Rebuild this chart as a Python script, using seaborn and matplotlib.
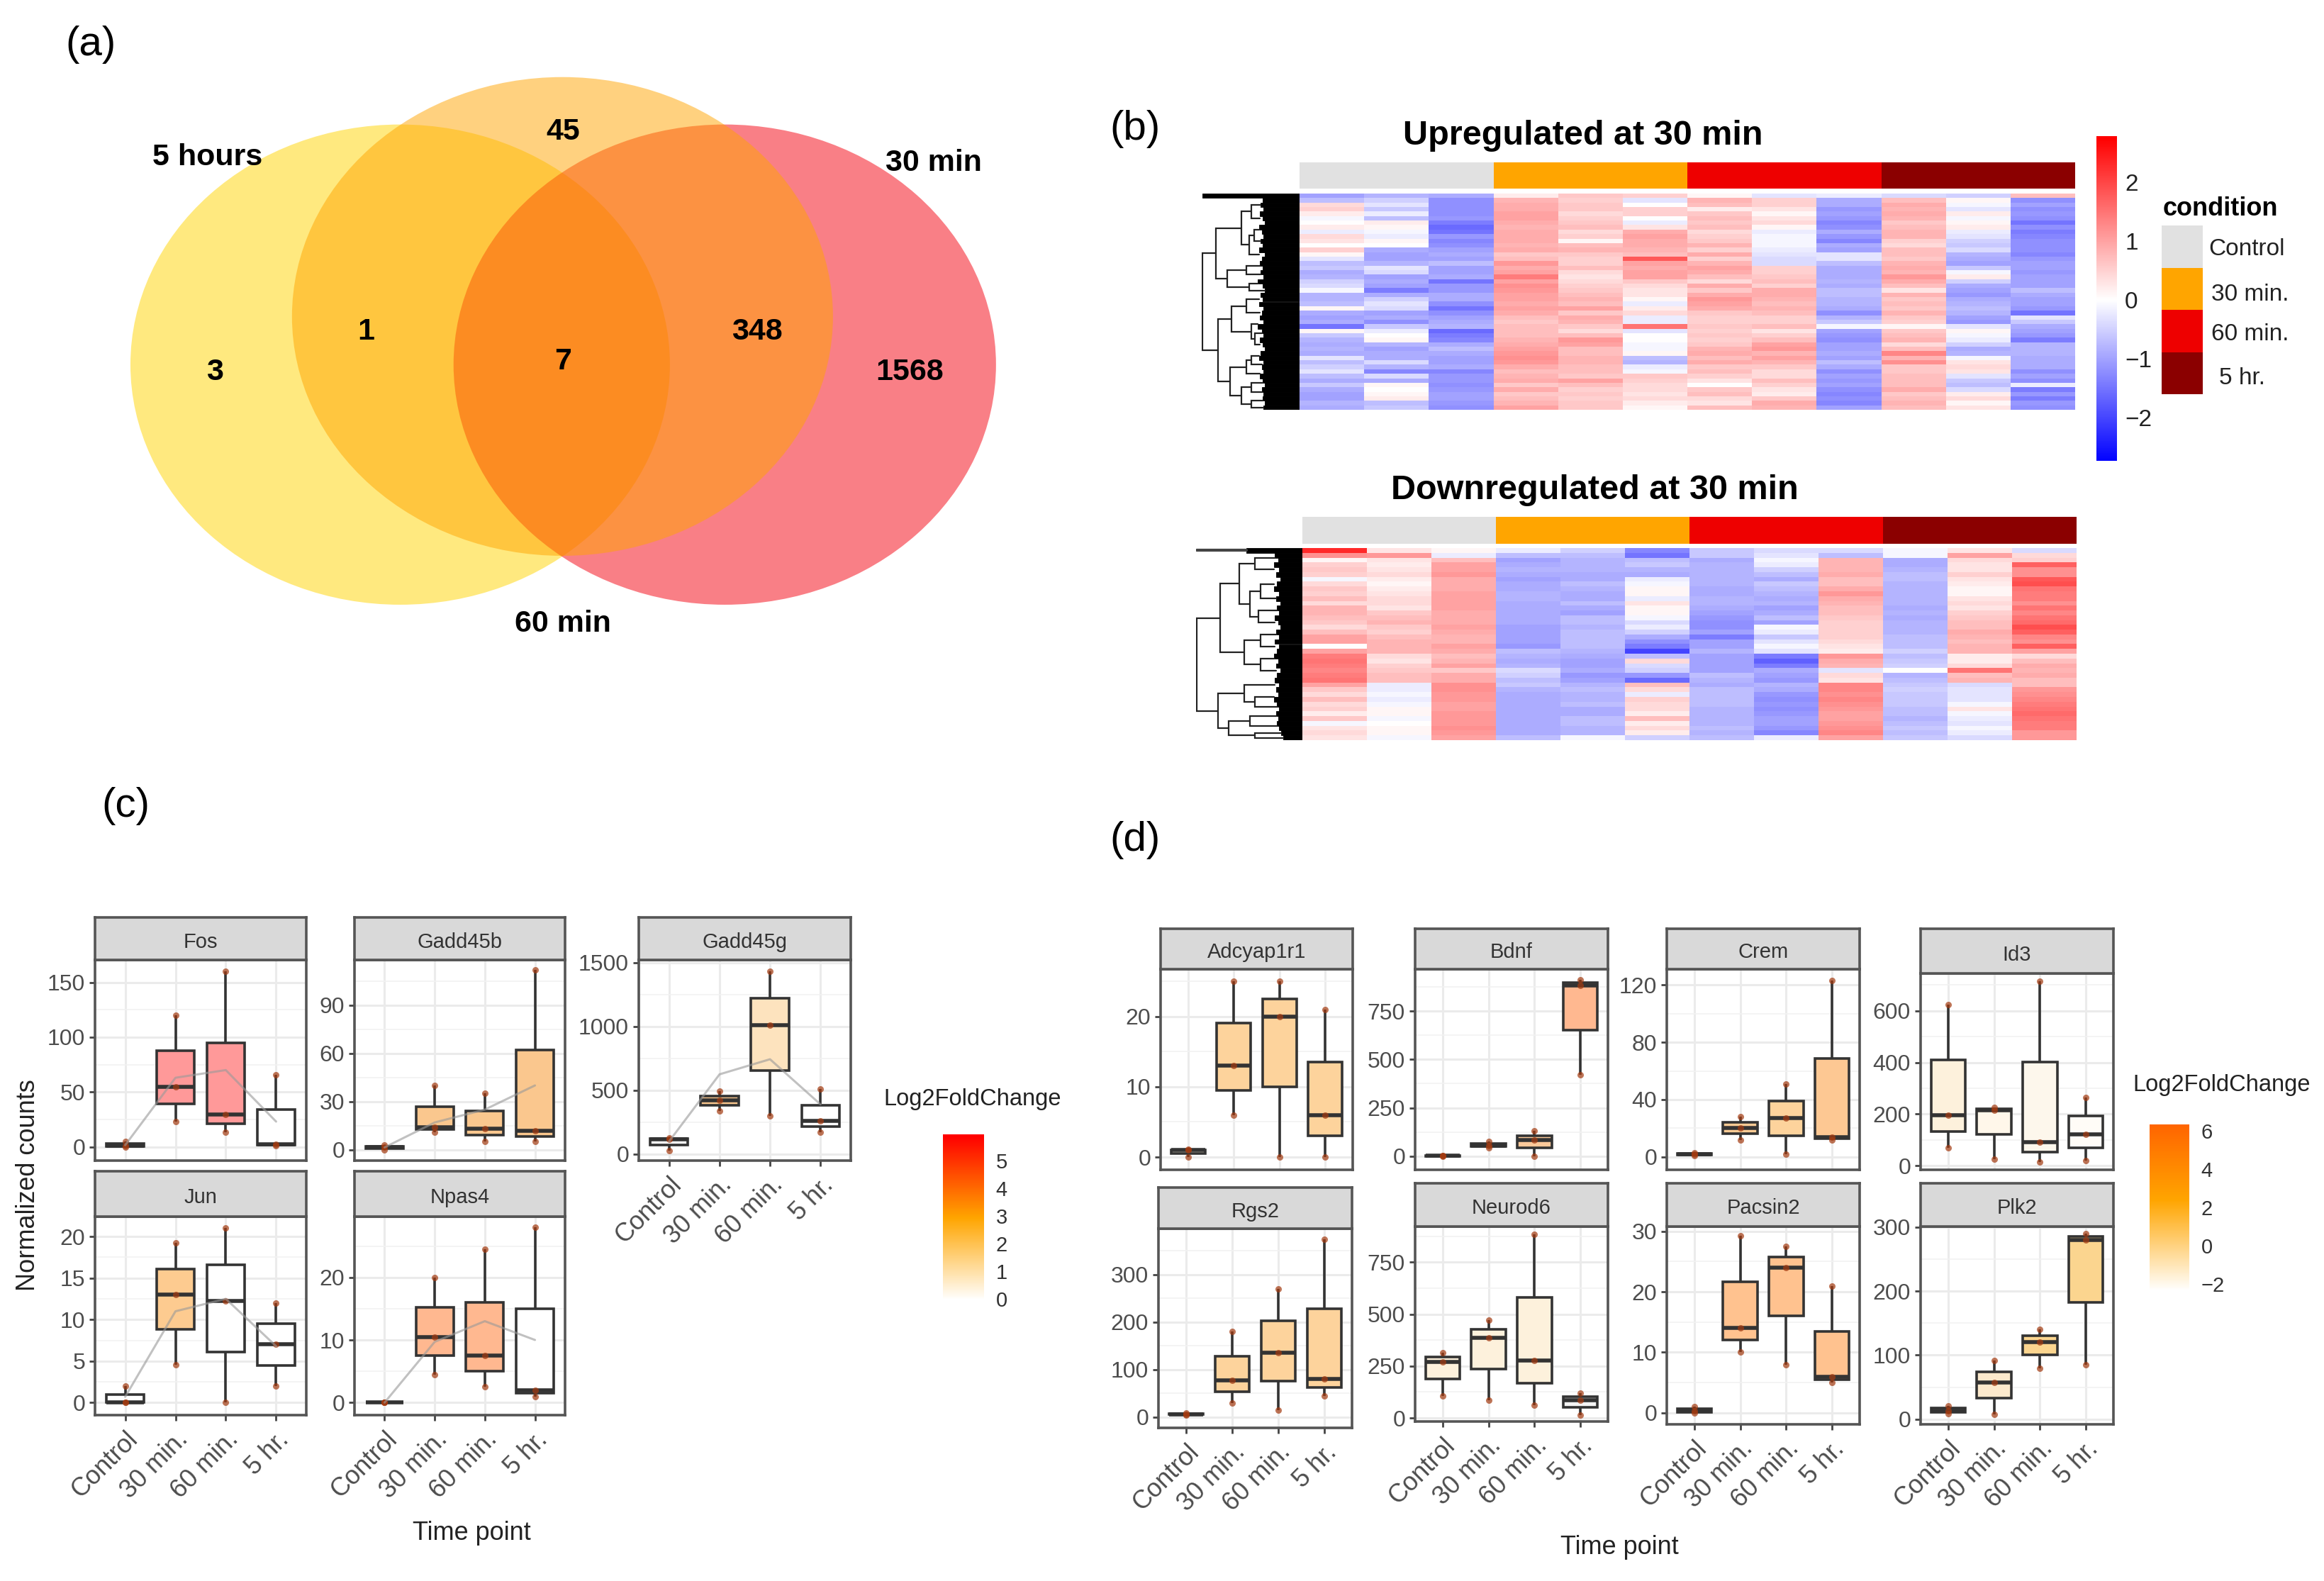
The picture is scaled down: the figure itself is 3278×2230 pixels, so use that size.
import numpy as np
import pandas as pd
import matplotlib
matplotlib.use("Agg")
import matplotlib.pyplot as plt
import seaborn as sns
from matplotlib.cm import ScalarMappable
from matplotlib.colors import LinearSegmentedColormap, ListedColormap, Normalize
from matplotlib.patches import Ellipse
from matplotlib.ticker import AutoMinorLocator

W, H = 3278, 2230
S = W / 1568

TIMES = ["Control", "30 min.", "60 min.", "5 hr."]
GENE_FONT = "Liberation Sans"

# venn counts
VENN_COUNTS = ["3", "1", "45", "7", "348", "1568"]
VENN_NAMES = ["5 hours", "60 min", "30 min"]

# three replicates per time point
FOS = [[0, 1, 5], [23, 55, 120], [13, 29.5, 160], [1, 2, 66]]
GADD45B = [[0, 1.5, 3], [11, 14, 40], [5, 13, 35], [5, 12, 112]]
GADD45G = [[30, 115, 130], [340, 420, 495], [300, 1010, 1430], [170, 260, 510]]
JUN = [[0, 0, 2], [4.6, 13, 19.2], [0, 12.2, 21], [2, 7, 12]]
NPAS4 = [[0, 0, 0], [4.5, 10.5, 20], [2.5, 7.5, 24.5], [1, 2, 28]]

ADCYAP1R1 = [[0, 1, 1.1], [6, 13, 25], [0, 20, 25], [0, 6, 21]]
BDNF = [[0, 2, 5], [45, 55, 75], [0, 85, 130], [420, 880, 910]]
CREM = [[1, 2, 3], [12, 20, 28], [2, 27, 51], [12, 14, 123]]
ID3 = [[70, 195, 625], [25, 215, 225], [15, 90, 715], [20, 120, 265]]
RGS2 = [[4, 6, 8], [30, 77, 180], [15, 135, 270], [45, 80, 375]]
NEUROD6 = [[105, 270, 315], [85, 385, 470], [60, 275, 885], [15, 85, 120]]
PACSIN2 = [[0, 0.3, 1], [10, 14, 29.3], [8, 24, 27.5], [5, 6, 21]]
PLK2 = [[9, 13, 21], [8, 57, 92], [80, 120, 140], [85, 280, 290]]

# grey trend lines in panel c
FOS_LINE = [1.5, 63, 70, 23]
GADD45B_LINE = [1.5, 17, 25, 40]
GADD45G_LINE = [100, 625, 743, 390]
JUN_LINE = [0.7, 11, 12.5, 6.8]
NPAS4_LINE = [0, 9.7, 13, 10]

# heatmap rows, 12 samples each
UP_ROWS = [
    [-1.0, -0.8, -0.9, 0.2, 0.6, 0.5, 0.1, -0.3, -0.2, -0.4, -0.5, 0.7],
    [-0.7, -0.5, -1.2, 0.8, 0.5, -0.3, 0.8, 0.5, -0.9, 0.7, 0.1, -1.2],
    [0.4, -0.3, -1.2, 0.9, 0.6, 0.0, 0.7, 0.5, -0.9, 0.9, -0.1, -1.0],
    [0.5, -0.6, -1.2, 0.9, 0.6, 0.5, 0.2, 0.3, -1.1, 0.8, -0.3, -1.2],
    [0.2, -0.2, -1.2, 1.0, 0.4, 0.5, 0.6, 0.1, -1.0, 0.9, 0.2, -1.1],
    [-0.1, -0.7, -1.1, 1.0, 0.5, 0.0, 0.7, 0.3, -1.1, 0.8, -0.1, -1.2],
    [0.0, 0.2, -1.4, 0.9, 0.6, -0.2, 0.6, 0.4, -1.3, 0.6, 0.1, -1.5],
    [0.2, 0.1, -1.6, 0.8, 0.7, 0.3, 0.7, 0.1, -1.2, 0.7, 0.2, -1.2],
    [-0.2, -0.1, -1.5, 0.9, 0.4, 0.9, 0.4, -0.2, -0.9, 0.8, -0.2, -1.4],
    [0.4, -0.2, -1.1, 0.9, 0.5, 1.0, 0.5, -0.1, -1.1, 0.8, -0.3, -1.3],
    [0.3, 0.1, -1.3, 0.9, 0.1, 0.9, 0.6, -0.1, -1.3, 0.5, -0.5, -1.2],
    [0.0, 0.0, -1.2, 0.8, 0.7, 0.9, 0.8, -0.1, -0.9, 0.4, -0.6, -1.2],
    [0.5, -0.9, -1.0, 0.9, 0.8, 0.8, 0.5, -0.2, -1.0, 0.7, -0.4, -1.2],
    [0.1, -1.0, -0.9, 0.6, 0.6, 0.7, 0.9, -0.3, -0.3, 0.7, -0.8, -1.3],
    [-0.3, -1.0, -1.0, 0.7, 0.5, 1.8, 0.5, -0.4, -0.3, 0.6, -0.9, -1.1],
    [-0.7, -0.8, -0.7, 1.1, 0.5, 1.0, 0.8, -0.4, -0.7, 0.8, -1.0, -1.0],
    [-0.6, -0.3, -1.0, 0.9, 0.7, 0.9, 1.0, 0.5, -0.9, 0.9, -0.6, -1.0],
    [-0.9, -0.4, -1.0, 1.0, 0.4, 1.0, 0.9, 0.5, -0.9, 0.8, -0.1, -1.1],
    [-0.8, -1.0, -0.9, 1.4, 0.3, 1.0, 0.7, 0.6, -0.9, 1.1, 0.2, -1.0],
    [-0.5, -0.9, -1.5, 1.0, 0.4, 0.6, 0.4, 0.7, -0.8, 0.9, -0.5, -1.0],
    [-0.4, -1.0, -1.1, 1.2, 0.5, 0.4, 0.9, 0.5, -0.9, 0.7, -0.9, -1.0],
    [-0.1, -1.4, -1.1, 1.1, 0.6, 0.3, 0.6, 0.9, -0.7, 0.3, -1.0, -0.7],
    [-0.8, -0.9, -0.9, 1.0, 0.7, 0.3, 0.9, 0.9, -0.7, 0.8, -1.1, -0.9],
    [-0.8, -0.5, -0.9, 1.0, 0.8, 0.1, 1.1, 0.8, -0.8, 0.6, -0.9, -1.0],
    [-0.7, -0.3, -1.2, 0.9, 0.7, -0.2, 1.0, 0.7, -0.8, 0.7, -0.8, -1.0],
    [0.1, -0.4, -1.5, 1.0, 1.0, 0.2, 0.9, 0.8, -0.9, 0.6, -0.7, -1.1],
    [-0.9, -1.0, -1.2, 0.9, 0.6, 0.4, 0.6, 0.7, -1.2, 0.8, -0.8, -1.5],
    [-1.0, -0.9, -1.0, 0.7, 0.9, -0.2, 0.5, 0.5, -0.8, 0.6, -1.0, -0.3],
    [-0.9, -1.2, -0.9, 0.6, 0.8, -0.2, 0.5, 0.5, -0.6, 0.5, -1.1, -0.6],
    [-1.5, -0.6, -0.8, 0.7, 0.6, 1.5, 0.6, 0.7, -0.1, 0.1, -0.3, -0.9],
    [0.1, -0.2, -1.6, 0.7, 0.4, -0.3, 0.5, 0.3, -1.0, 0.6, 0.1, -1.0],
    [-0.6, 0.0, -1.4, 0.7, 0.7, 0.0, 0.6, 0.5, -1.1, 0.7, -0.1, -1.1],
    [-0.8, 0.1, -1.3, 0.8, 1.1, 0.0, 0.5, 0.7, -1.2, 0.8, -0.2, -1.4],
    [-0.9, -0.8, -0.9, 0.9, 1.0, -0.1, 0.6, 1.0, -1.0, 0.4, -0.5, -0.8],
    [-0.8, -1.0, -0.7, 1.0, 0.7, -0.1, 0.8, 1.1, -1.0, 0.7, -0.9, -0.8],
    [-0.9, -0.9, -0.9, 1.1, 0.7, 0.1, 0.9, 0.8, -0.9, 1.3, -0.8, -0.8],
    [-0.3, -0.9, -1.0, 1.2, 0.8, -0.7, 0.7, 1.0, -1.0, 0.8, -0.1, -0.9],
    [-0.7, -0.4, -1.0, 1.1, 0.8, -0.8, 0.9, 0.8, -0.7, 1.2, 0.3, -0.9],
    [-0.5, -0.8, -0.9, 0.9, 0.7, -0.2, 0.6, 0.6, -0.9, 0.6, 0.4, -0.9],
    [-0.3, -1.3, -1.3, 0.7, 0.7, -0.1, 0.7, 0.4, -1.2, 0.6, 0.3, -1.2],
    [-0.7, -0.4, -1.1, 0.8, 0.6, 0.6, 0.5, 0.4, -1.0, 0.7, -0.3, -1.0],
    [-0.9, -0.9, -1.1, 0.9, 1.0, 0.5, 0.3, 0.7, -1.1, 0.7, -0.6, -1.2],
    [-0.6, 0.1, -1.2, 0.6, 0.7, 0.4, 0.0, 0.5, -1.0, 0.7, -0.7, -0.2],
    [-0.9, 0.0, -1.1, 0.9, 0.5, 0.4, 0.6, 0.3, -1.2, 0.9, -0.4, -1.4],
    [-1.0, 0.1, -1.0, 0.6, 0.6, 0.3, 0.7, 0.2, -1.3, 0.6, 0.2, -1.1],
    [-1.0, 0.2, -1.0, 0.7, 0.5, 0.4, 0.4, 0.6, -1.2, 0.7, 0.4, -1.4],
    [-0.8, -0.7, -1.1, 0.8, 0.6, 0.2, 0.3, 0.9, -1.3, 0.8, 0.1, -1.1],
    [-0.9, -0.6, -1.2, 1.0, 0.6, 0.1, 0.7, 0.8, -1.0, 0.7, 0.3, -1.2],
]

DOWN_ROWS = [
    [2.3, 0.3, 0.1, -0.2, -0.5, -1.3, -0.6, -0.4, -0.4, -0.1, 0.3, -0.4],
    [1.2, 1.1, -0.2, -0.7, -0.7, -1.5, -0.6, -0.3, -0.7, -0.1, 1.0, 0.4],
    [0.1, 0.3, 0.7, -1.0, -0.8, -0.7, -0.9, -0.1, 0.8, -0.9, 0.4, 0.5],
    [0.5, 0.2, 1.0, -0.9, -0.8, -0.6, -0.8, -0.2, 0.8, -0.9, 0.3, 1.7],
    [0.6, 0.3, 1.0, -0.8, -0.8, -0.8, -0.8, -0.5, 0.8, -0.8, 0.3, 1.2],
    [0.5, 0.4, 1.1, -0.9, -0.9, -0.9, -0.8, -0.7, 0.9, -0.7, 0.5, 1.2],
    [-0.1, 0.2, 0.9, -1.0, -0.9, -0.2, -0.8, -0.9, 0.7, -0.7, 0.3, 1.8],
    [0.4, 0.1, 0.9, -0.9, -0.7, -0.1, -0.8, -0.6, 0.7, -0.8, 0.2, 1.9],
    [0.6, 0.2, 0.9, -0.9, -0.8, 0.1, -0.9, -0.7, 0.9, -0.8, 0.1, 1.5],
    [0.5, 0.3, 1.0, -0.8, -0.9, 0.1, -0.9, -0.8, 1.1, -0.8, 0.1, 1.4],
    [0.7, 0.4, 1.0, -0.8, -0.9, -0.2, -0.8, -0.9, 0.9, -0.8, 0.3, 1.4],
    [0.4, 0.4, 1.0, -0.9, -0.7, 0.3, -0.8, -0.8, 0.8, -0.8, 0.4, 1.2],
    [0.8, 0.3, 1.0, -0.9, -0.9, 0.1, -0.9, -1.0, 0.7, -0.9, 0.3, 1.5],
    [0.8, 0.6, 0.9, -0.9, -1.0, 0.1, -1.0, -0.9, 0.7, -0.8, 0.5, 1.3],
    [0.7, 0.7, 0.9, -0.9, -0.7, -0.1, -1.1, -0.7, 0.6, -0.9, 0.6, 1.5],
    [0.6, 0.8, 0.9, -0.9, -0.7, -0.4, -1.2, -1.0, 0.5, -0.8, 0.7, 1.6],
    [0.4, 0.6, 1.0, -1.0, -0.8, -0.2, -1.2, -0.1, 0.5, -0.8, 0.7, 1.9],
    [0.7, 0.5, 0.9, -1.0, -0.7, -0.5, -1.0, -0.2, 0.5, -0.8, 0.9, 1.7],
    [1.0, 0.7, 0.8, -1.0, -0.7, -0.9, -1.4, -0.6, 0.5, -0.7, 0.8, 1.3],
    [1.0, 0.8, 0.8, -1.0, -0.7, -1.2, -1.0, -0.3, 0.4, -0.7, 0.7, 1.2],
    [0.0, 0.8, 1.0, -1.1, -0.7, -1.4, -1.0, -0.1, 0.3, -0.7, 0.8, 1.7],
    [1.0, 0.8, 0.9, -0.7, -0.8, -2.0, -0.8, -0.3, 0.2, -0.5, 0.8, 1.0],
    [1.4, 0.4, 0.7, -0.8, -0.9, -0.7, -1.0, -1.4, 1.1, -0.7, 0.2, 0.4],
    [1.5, 0.3, 0.8, -0.9, -1.0, 0.4, -1.0, -1.7, 0.9, -0.6, 0.2, 0.7],
    [1.4, 0.5, 1.0, -0.8, -1.0, -0.4, -1.0, -1.4, 0.8, -0.5, 0.4, 0.9],
    [1.3, 0.6, 0.6, -0.4, -0.9, -0.5, -1.0, -0.9, -0.3, 0.0, 1.5, 0.8],
    [1.4, 0.7, 0.9, -0.5, -1.1, -1.1, -0.7, -1.0, 0.4, -0.8, 0.7, 0.9],
    [1.5, 0.7, 0.9, -0.7, -1.0, -1.6, -0.8, -1.1, 0.3, -0.7, 0.8, 0.7],
    [1.0, -0.2, 1.2, -0.6, -0.8, 0.7, -0.9, -0.8, 1.3, -0.6, -0.4, 0.7],
    [0.6, -0.2, 1.2, -0.8, -0.7, 0.4, -0.7, -0.9, 1.3, -0.5, -0.3, 1.1],
    [0.4, -0.1, 1.1, -0.9, -0.8, -0.2, -0.7, -1.1, 1.2, -0.6, -0.3, 1.2],
    [0.7, -0.2, 1.1, -0.9, -0.8, 0.5, -0.7, -1.2, 1.3, -0.6, -0.3, 1.3],
    [0.4, -0.1, 1.0, -0.9, -0.7, 0.4, -0.7, -1.1, 1.2, -0.6, -0.1, 1.4],
    [0.5, 0.1, 1.0, -0.9, -0.9, 0.4, -0.8, -1.2, 1.1, -0.7, 0.3, 1.5],
    [0.2, 0.1, 1.1, -0.9, -0.9, 0.2, -0.8, -1.1, 1.0, -0.7, -0.1, 1.6],
    [0.6, -0.1, 1.1, -0.9, -0.7, 0.7, -0.8, -1.0, 1.0, -0.8, -0.2, 1.5],
    [-0.1, 0.0, 1.1, -0.9, -0.7, 0.2, -0.8, -1.0, 1.1, -0.7, -0.3, 1.4],
    [0.3, 0.1, 1.2, -0.9, -0.8, 0.4, -0.7, -1.1, 1.2, -0.6, -0.1, 1.4],
    [0.4, 0.1, 1.1, -0.9, -0.8, 0.2, -0.8, -1.3, 1.3, -0.7, -0.2, 1.1],
    [0.3, -0.1, 1.0, -0.7, -0.1, -0.5, -0.7, -0.2, 1.0, -0.6, -0.4, 1.1],
]

# sample groups along the annotation bar
CONDITION_CODES = [0, 0, 0, 1, 1, 1, 2, 2, 2, 3, 3, 3]
CONDITION_COLORS = ["#E1E1E1", "#FFA500", "#EE0000", "#8B0000"]

# leaf stub length per row and the tree above them, (height, upper, lower) or a row count
UP_STUBS = [1.0, 0.38, 0.4, 0.37, 0.41, 0.38, 0.36, 0.42, 0.39, 0.37, 0.4, 0.38, 0.42, 0.36, 0.39, 0.41,
            0.38, 0.4, 0.37, 0.43, 0.38, 0.36, 0.4, 0.38, 0.42, 0.37, 0.39, 0.41, 0.37, 0.43, 0.39, 0.37,
            0.41, 0.38, 0.36, 0.4, 0.42, 0.37, 0.39, 0.37, 0.41, 0.38, 0.36, 0.39, 0.37, 0.38, 0.36, 0.37]
UP_TREE = (1.0,
           (0.86, (0.6, (0.5, 3, 3), (0.52, (0.47, 2, 3), 3)), (0.75, (0.55, 2, 2), (0.52, 2, 1))),
           (0.84, (0.7, (0.55, 3, 3), (0.5, 2, (0.46, 2, 3))),
            (0.72, (0.55, (0.5, 2, 2), 2), (0.6, (0.5, 2, 2), (0.5, 2, 1)))))
DOWN_STUBS = [0.53, 0.26, 0.23, 0.27, 0.22, 0.25, 0.21, 0.24, 0.27, 0.22, 0.25, 0.21, 0.24, 0.22, 0.26, 0.23,
              0.21, 0.25, 0.22, 0.26, 0.22, 0.24, 0.27, 0.23, 0.25, 0.21, 0.24, 0.26, 0.22, 0.25, 0.23, 0.27,
              0.24, 0.22, 0.25, 0.23, 0.24, 0.22, 0.2, 0.18]
DOWN_TREE = (1.0,
             (0.78, (0.6, (0.45, 2, 3), (0.5, (0.4, 3, 3), (0.42, 2, 3))), (0.55, (0.4, 2, 3), (0.4, 2, 3))),
             (0.8, (0.55, 3, (0.45, 2, 2)), (0.7, (0.5, 2, 2), (0.45, 1, 1))))

# legend tick values
HEAT_TICKS = [-2, -1, 0, 1, 2]
C_FC_TICKS = [0, 1, 2, 3, 4, 5]
D_FC_TICKS = [-2, 0, 2, 4, 6]

sns.set_theme(style="white")
plt.rcParams["font.family"] = [GENE_FONT, "DejaVu Sans"]
plt.rcParams["axes.unicode_minus"] = True

fig = plt.figure(figsize=(W / 100, H / 100), dpi=100, facecolor="white")


def px_axes(x0, y0, x1, y1, **kw):
    return fig.add_axes([x0 / W, 1 - y1 / H, (x1 - x0) / W, (y1 - y0) / H], **kw)


# overlay in pixel coordinates for the venn and free text
page = px_axes(0, 0, W, H)
page.set_xlim(0, W)
page.set_ylim(H, 0)
page.axis("off")


def note(x, y, s, size=26, weight="normal", color="black", **kw):
    page.text(x, y, s, fontsize=size, fontweight=weight, color=color, ha="center", va="center", **kw)


for (x0, x1, y0, y1), col in [((88, 452, 84, 408), "#FFD500"),
                              ((306, 672, 84, 408), "#F5000F"),
                              ((197, 562, 52, 375), "#FFA500")]:
    page.add_patch(Ellipse(((x0 + x1) / 2 * S, (y0 + y1) / 2 * S), (x1 - x0) * S, (y1 - y0) * S,
                           facecolor=col, edgecolor="none", alpha=0.5))

for (x, y), s in zip([(145, 251), (247, 224), (380, 89), (380, 244), (511, 224), (614, 251)], VENN_COUNTS):
    note(x * S, y * S, s, size=31, weight="bold")
for (x, y), s in zip([(140, 106), (380, 421), (630, 110)], VENN_NAMES):
    note(x * S, y * S, s, size=31, weight="bold")

for (x, y), s in zip([(61, 30), (766, 87), (85, 544), (766, 567)], ["(a)", "(b)", "(c)", "(d)"]):
    note(x * S, y * S, s, size=42)

# heatmaps
heat_cmap = LinearSegmentedColormap.from_list("bwr2", ["#0000FF", "#FFFFFF", "#FF0000"])
cond_cmap = ListedColormap(CONDITION_COLORS)


def draw_tree(ax, node, row, stubs):
    # returns centre row and height of the node
    if isinstance(node, int):
        centre = row + node / 2
        return centre, max(stubs[row:row + node]), row + node
    h, up, low = node
    c1, h1, row = draw_tree(ax, up, row, stubs)
    c2, h2, row = draw_tree(ax, low, row, stubs)
    ax.plot([h1, h, h, h2], [c1, c1, c2, c2], color="#222222", lw=1.6, solid_joinstyle="miter")
    return (c1 + c2) / 2, h, row


def heat_panel(rows, stubs, tree, left, right, top, bottom, bar_top, bar_bottom, tree_left):
    ax = px_axes(left, top, right, bottom)
    sns.heatmap(np.array(rows), ax=ax, cmap=heat_cmap, vmin=-2.75, vmax=2.75, cbar=False,
                xticklabels=False, yticklabels=False)
    bar = px_axes(left, bar_top, right, bar_bottom)
    sns.heatmap(np.array([CONDITION_CODES]), ax=bar, cmap=cond_cmap, vmin=-0.5, vmax=3.5, cbar=False,
                xticklabels=False, yticklabels=False)
    den = px_axes(tree_left, top, left, bottom)
    den.barh(np.arange(len(stubs)) + 0.5, stubs, height=1.0, color="black", edgecolor="black", linewidth=0.6)
    if stubs[0] < 1:
        den.plot([stubs[0], 1.0], [0.5, 0.5], color="#444444", lw=3)
    draw_tree(den, tree, 1, stubs)
    den.set_xlim(1.01, 0)
    den.set_ylim(len(stubs), 0)
    den.axis("off")


heat_panel(UP_ROWS, UP_STUBS, UP_TREE, 1833, 2927, 273, 578, 229, 266, 1695)
heat_panel(DOWN_ROWS, DOWN_STUBS, DOWN_TREE, 1837, 2929, 773, 1044, 729, 767, 1687)
note(2233, 191, "Upregulated at 30 min", size=35, weight="bold")
note(2249, 692, "Downregulated at 30 min", size=35, weight="bold")

heat_cax = px_axes(2957, 192, 2986, 650)
fig.colorbar(ScalarMappable(Normalize(-2.73, 2.78), heat_cmap), cax=heat_cax, ticks=HEAT_TICKS)
heat_cax.tick_params(length=0, labelsize=24, labelcolor="#222222", pad=8)
heat_cax.collections[-1].set_edgecolor("face")
for sp in heat_cax.spines.values():
    sp.set_visible(False)

legend_ax = px_axes(3049, 318, 3107, 556)
sns.heatmap(np.array([[0], [1], [2], [3]]), ax=legend_ax, cmap=cond_cmap, vmin=-0.5, vmax=3.5, cbar=False,
            xticklabels=False, yticklabels=False)
note(3132, 295, "condition", size=26, weight="bold")
for x, y, s in zip([3115, 3119, 3119, 3130], [352, 415, 472, 534], ["Control", "30 min.", "60 min.", "5 hr."]):
    page.text(x, y, s, fontsize=24, color="#222222", va="center", ha="left")


# box plot facets
def box_panel(gene, reps, fills, yticks, ylim, box, strip_top, xlabels, line=None):
    x0, y0, x1, y1 = box
    ax = px_axes(x0, y0, x1, y1)
    df = pd.DataFrame({"time": np.repeat(TIMES, 3), "counts": np.ravel(reps)})
    sns.boxplot(data=df, x="time", y="counts", hue="time", order=TIMES, hue_order=TIMES,
                palette=dict(zip(TIMES, fills)), saturation=1, width=0.75, whis=np.inf,
                linecolor="#333333", linewidth=2.6, dodge=False, legend=False, ax=ax,
                showcaps=False, medianprops={"linewidth": 4})
    sns.stripplot(data=df, x="time", y="counts", order=TIMES, jitter=False, color="#A33A10",
                  size=6.5, alpha=0.7, ax=ax, zorder=4)
    if line is not None:
        sns.lineplot(x=TIMES, y=line, sort=False, color="#999999", alpha=0.6, linewidth=2.2, ax=ax,
                     errorbar=None, zorder=5)
    ax.set_xlim(-0.6, 3.6)
    ax.set_ylim(*ylim)
    ax.set_yticks(yticks)
    ax.yaxis.set_minor_locator(AutoMinorLocator(2))
    ax.set_xlabel("")
    ax.set_ylabel("")
    ax.set_axisbelow(True)
    ax.grid(True, which="major", color="#EBEBEB", lw=2.2)
    ax.grid(True, which="minor", axis="y", color="#F2F2F2", lw=1.2)
    ax.tick_params(axis="y", which="major", left=True, length=6, width=2, color="#444444",
                   labelsize=23, labelcolor="#4D4D4D", pad=4)
    ax.tick_params(axis="y", which="minor", left=False)
    ax.set_xticks(range(4))
    if xlabels:
        ax.set_xticklabels(TIMES, rotation=45, ha="right", rotation_mode="anchor")
        ax.tick_params(axis="x", bottom=True, length=6, width=2, color="#444444",
                       labelsize=26, labelcolor="#4D4D4D", pad=6)
    else:
        ax.tick_params(axis="x", bottom=False, labelbottom=False)
    for sp in ax.spines.values():
        sp.set_visible(True)
        sp.set_color("#555555")
        sp.set_linewidth(2.6)
    strip = px_axes(x0, strip_top, x1, y0)
    strip.set_facecolor("#D9D9D9")
    strip.set_xticks([])
    strip.set_yticks([])
    for sp in strip.spines.values():
        sp.set_visible(True)
        sp.set_color("#555555")
        sp.set_linewidth(2.6)
    strip.text(0.5, 0.42, gene, transform=strip.transAxes, ha="center", va="center",
               fontsize=21, color="#333333")


WHITE = "#FFFFFF"
PEACH = "#FAC78E"
box_panel("Fos", FOS, [WHITE, "#FF9999", "#FF9999", WHITE], [0, 50, 100, 150], (-12.6, 170.5),
          (134, 1354, 432, 1637), 1294, False, FOS_LINE)
box_panel("Gadd45b", GADD45B, [WHITE, PEACH, PEACH, PEACH], [0, 30, 60, 90], (-6.7, 118),
          (500, 1354, 797, 1637), 1294, False, GADD45B_LINE)
box_panel("Gadd45g", GADD45G, [WHITE, PEACH, "#FDE3BE", WHITE], [0, 500, 1000, 1500], (-50, 1520),
          (901, 1354, 1200, 1637), 1294, True, GADD45G_LINE)
box_panel("Jun", JUN, [WHITE, "#FDCB90", WHITE, WHITE], [0, 5, 10, 15, 20], (-1.5, 22.4),
          (134, 1716, 432, 1996), 1652, True, JUN_LINE)
box_panel("Npas4", NPAS4, [WHITE, "#FFB890", "#FFB890", WHITE], [0, 10, 20], (-2, 29.7),
          (500, 1716, 797, 1996), 1652, True, NPAS4_LINE)

LIGHT = "#FDF1DC"
box_panel("Adcyap1r1", ADCYAP1R1, [LIGHT, "#FDD39C", "#FDD39C", "#FDD39C"], [0, 10, 20], (-1.8, 26.7),
          (1637, 1367, 1908, 1650), 1310, False)
box_panel("Bdnf", BDNF, [WHITE, "#FFB890", "#FBC99A", "#FFB890"], [0, 250, 500, 750], (-70, 966),
          (1996, 1367, 2268, 1650), 1310, False)
box_panel("Crem", CREM, [WHITE, "#FBCB94", "#FDD39C", "#FDC893"], [0, 40, 80, 120], (-9, 131),
          (2351, 1367, 2623, 1650), 1310, False)
box_panel("Id3", ID3, [LIGHT, "#FFF7EA", "#FDF7EC", "#FFFCF7"], [0, 200, 400, 600], (-16, 745),
          (2709, 1373, 2981, 1650), 1310, False)
box_panel("Rgs2", RGS2, [WHITE, "#FDD39C", "#FDD39C", "#FDD39C"], [0, 100, 200, 300], (-23, 397),
          (1634, 1733, 1907, 2014), 1675, True)
box_panel("Neurod6", NEUROD6, [LIGHT, LIGHT, LIGHT, "#F4F4F4"], [0, 250, 500, 750], (-17, 922),
          (1996, 1730, 2268, 2005), 1669, True)
box_panel("Pacsin2", PACSIN2, [WHITE, "#FFC28F", "#FFC28F", "#FFC28F"], [0, 10, 20, 30], (-1.9, 30.8),
          (2351, 1730, 2623, 2009), 1669, True)
box_panel("Plk2", PLK2, [WHITE, "#FCE9CC", "#FBD58F", "#FBD58F"], [0, 100, 200, 300], (-8, 301),
          (2709, 1730, 2981, 2009), 1669, True)

page.text(40, 1672, "Normalized counts", fontsize=26, color="#222222", rotation=90, ha="center", va="center")
note(665, 2162, "Time point", size=26, color="#222222")
note(2284, 2182, "Time point", size=26, color="#222222")

# fold change legends
fc_c = LinearSegmentedColormap.from_list("fc_c", [(0, "#FFFFFF"), (0.5, "#FFA500"), (1, "#FF0000")])
fc_d = LinearSegmentedColormap.from_list("fc_d", [(0, "#FFFFFF"), (0.55, "#FFA500"), (1, "#FF6600")])
for box, cmap, lims, ticks in [((1330, 1600, 1388, 1832), fc_c, (0, 5.95), C_FC_TICKS),
                               ((3032, 1586, 3088, 1819), fc_d, (-2.3, 6.33), D_FC_TICKS)]:
    cax = px_axes(*box)
    fig.colorbar(ScalarMappable(Normalize(*lims), cmap), cax=cax, ticks=ticks)
    cax.tick_params(axis="y", direction="in", length=10, width=1.5, color="white", left=True, right=True,
                    labelsize=21, labelcolor="#333333", pad=12)
    cax.collections[-1].set_edgecolor("face")
    for sp in cax.spines.values():
        sp.set_visible(False)
note(1372, 1550, "Log2FoldChange", size=23.5, color="#222222")
note(3134, 1530, "Log2FoldChange", size=23.5, color="#222222")

fig.savefig("out.png", dpi=100, facecolor="white")
